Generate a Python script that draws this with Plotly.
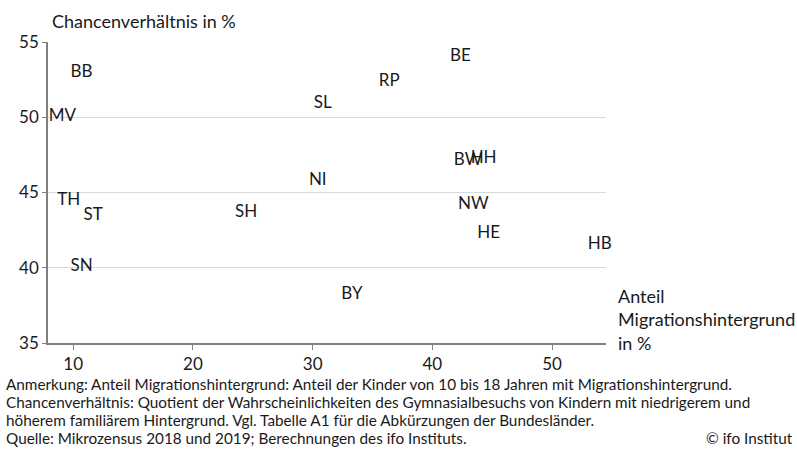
import plotly.graph_objects as go

laender = ["BB", "MV", "TH", "ST", "SN", "SH", "NI", "BY", "SL", "RP", "BE", "BW", "HH", "NW", "HE", "HB"]
anteil_migration = [10.7, 9.1, 9.64, 11.67, 10.7, 24.44, 30.43, 33.28, 30.85, 36.4, 42.34, 42.98, 44.28, 43.42, 44.7, 53.97]
chancenverhaeltnis = [52.93, 50.05, 44.45, 43.45, 40.07, 43.67, 45.78, 38.18, 50.89, 52.33, 54.0, 47.11, 47.22, 44.16, 42.27, 41.56]

x_ticks = [10, 20, 30, 40, 50]
y_ticks = [35, 40, 45, 50, 55]

notes = [
    "Anmerkung: Anteil Migrationshintergrund: Anteil der Kinder von 10 bis 18 Jahren mit Migrationshintergrund.",
    "Chancenverhältnis: Quotient der Wahrscheinlichkeiten des Gymnasialbesuchs von Kindern mit niedrigerem und",
    "höherem familiärem Hintergrund. Vgl. Tabelle A1 für die Abkürzungen der Bundesländer.",
    "Quelle: Mikrozensus 2018 und 2019; Berechnungen des ifo Instituts.",
]

FONT = "Lato"
TXT = "#1a1a1a"

fig = go.Figure()
fig.add_trace(go.Scatter(
    x=anteil_migration, y=chancenverhaeltnis, text=laender,
    mode="text", textposition="middle center", cliponaxis=False,
    textfont=dict(family=FONT, size=17, color=TXT),
    hoverinfo="skip", showlegend=False,
))

fig.update_layout(
    width=797, height=452,
    margin=dict(l=48, r=191, t=42, b=109),
    paper_bgcolor="white", plot_bgcolor="white",
    font=dict(family=FONT, size=17, color=TXT),
    xaxis=dict(range=[7.9, 54.5], tickvals=x_ticks, showgrid=False, zeroline=False,
               showline=True, linecolor="#7f7f7f", linewidth=1.5,
               ticks="outside", ticklen=5, tickcolor="#7f7f7f", tickwidth=1,
               tickfont=dict(family=FONT, size=17, color=TXT)),
    yaxis=dict(range=[35, 55], tickvals=y_ticks, showgrid=True, gridcolor="#d9d9d9", gridwidth=1,
               zeroline=False, showline=True, linecolor="#7f7f7f", linewidth=1.5,
               ticks="outside", ticklen=4, tickcolor="#7f7f7f", tickwidth=1,
               tickfont=dict(family=FONT, size=17, color=TXT)),
)

fig.add_annotation(text="Chancenverhältnis in %", xref="paper", yref="paper",
                   x=0, y=1, xshift=2, yshift=8, xanchor="left", yanchor="bottom",
                   showarrow=False, font=dict(family=FONT, size=18, color=TXT))
fig.add_annotation(text="Anteil<br>Migrationshintergrund<br>in %", xref="paper", yref="paper",
                   x=1, y=0, xshift=10, yshift=-13, xanchor="left", yanchor="bottom", align="left",
                   showarrow=False, font=dict(family=FONT, size=18, color=TXT))

for i, line in enumerate(notes):
    fig.add_annotation(text=line, xref="paper", yref="paper", x=0, y=0,
                       xshift=-44, yshift=-41 - 18 * i, xanchor="left", yanchor="middle", align="left",
                       showarrow=False, font=dict(family=FONT, size=15.3, color=TXT))
fig.add_annotation(text="© ifo Institut", xref="paper", yref="paper", x=1, y=0,
                   xshift=189, yshift=-95, xanchor="right", yanchor="middle", align="right",
                   showarrow=False, font=dict(family=FONT, size=15.3, color=TXT))

fig.write_html("out.html", config={"displayModeBar": False},
               post_script="document.body.style.margin='0';")
